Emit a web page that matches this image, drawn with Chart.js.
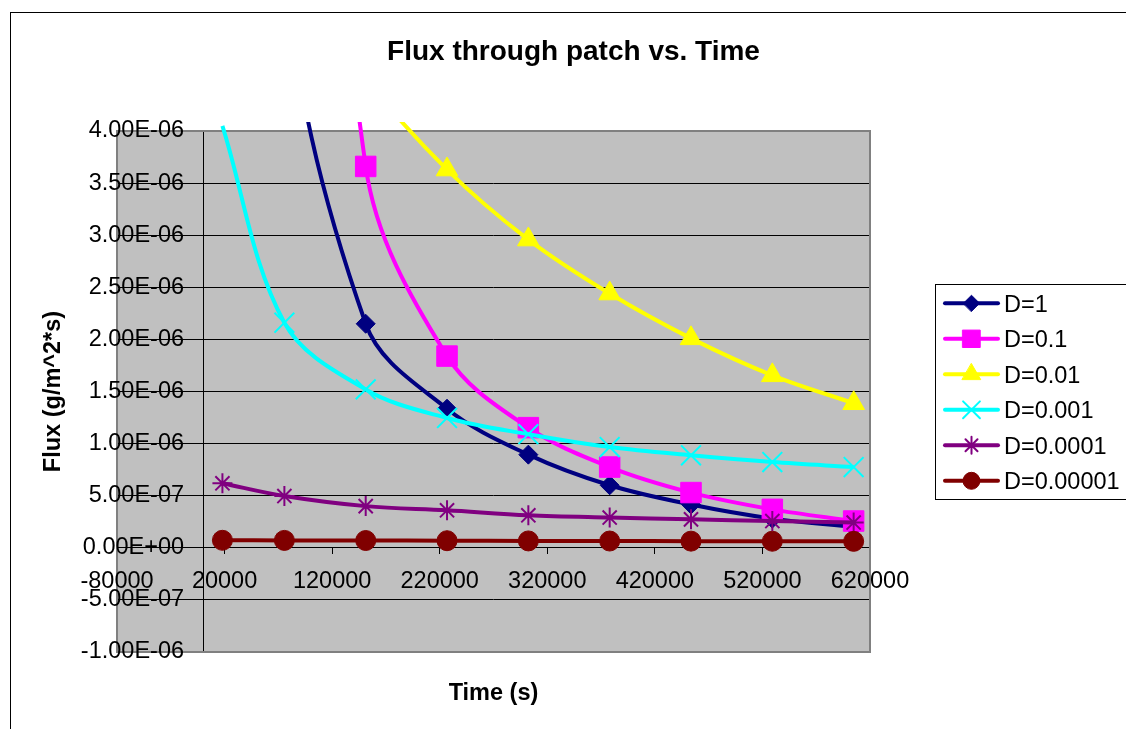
<!DOCTYPE html>
<html>
<head>
<meta charset="utf-8">
<title>Flux through patch vs. Time</title>
<script src="https://cdn.jsdelivr.net/npm/chart.js@4.4.1/dist/chart.umd.min.js"></script>
<style>
  html, body { margin: 0; padding: 0; background: #fff; }
  #wrap { width: 1126px; height: 729px; }
</style>
</head>
<body>
<div id="wrap"><canvas id="flux" width="1126" height="729"></canvas></div>
<script>
// sample times (s)
const times = [18000, 75600, 151200, 226800, 302400, 378000, 453600, 529200, 604800];

// flux (g/m^2*s) for each diffusivity
const fluxD1      = [2.6e-5, 5.8e-6, 2.15e-6, 1.335e-6, 8.94e-7, 6.0e-7, 4.15e-7, 2.8e-7, 2.0e-7];
const fluxD0_1    = [3.2e-5, 1.3e-5, 3.66e-6, 1.84e-6, 1.153e-6, 7.75e-7, 5.3e-7, 3.69e-7, 2.57e-7];
const fluxD0_01   = [7.0e-6, 5.6e-6, 4.5e-6, 3.63e-6, 2.958e-6, 2.44e-6, 2.01e-6, 1.655e-6, 1.387e-6];
const fluxD0_001  = [4.05e-6, 2.16e-6, 1.52e-6, 1.246e-6, 1.09e-6, 9.67e-7, 8.88e-7, 8.23e-7, 7.75e-7];
const fluxD0_0001 = [6.19e-7, 4.97e-7, 4.0e-7, 3.6e-7, 3.12e-7, 2.9e-7, 2.73e-7, 2.57e-7, 2.42e-7];
const fluxD1e_5   = [7.2e-8, 7.1e-8, 7.0e-8, 6.8e-8, 6.6e-8, 6.5e-8, 6.4e-8, 6.3e-8, 6.2e-8];

const seriesLabels = ['D=1', 'D=0.1', 'D=0.01', 'D=0.001', 'D=0.0001', 'D=0.00001'];
const fluxSeries = [fluxD1, fluxD0_1, fluxD0_01, fluxD0_001, fluxD0_0001, fluxD1e_5];

const xTicks = [-80000, 20000, 120000, 220000, 320000, 420000, 520000, 620000];
const yTicks = [-1.0e-6, -0.5e-6, 0, 0.5e-6, 1.0e-6, 1.5e-6, 2.0e-6, 2.5e-6, 3.0e-6, 3.5e-6, 4.0e-6];

// series look
const seriesColors = ['#000080', '#FF00FF', '#FFFF00', '#00FFFF', '#800080', '#800000'];
const markerStyles = ['rectRot', 'rect', 'triangle', 'crossRot', 'star', 'circle'];
const markerSizes = [9.5, 14.5, 12.5, 14, 10, 10];
const markerStrokes = [1, 1, 1, 2, 2, 1];

const FONT = '"Liberation Sans", Arial, sans-serif';
const Y_MAX = yTicks[yTicks.length - 1];
const TICK_LEN = 6;

// 4.00E-06 style labels
function sci(v) {
  if (Math.abs(v) < 1e-15) return '0.00E+00';
  const parts = v.toExponential(2).split('e');
  const n = parseInt(parts[1], 10);
  return parts[0] + 'E' + (n < 0 ? '-' : '+') + String(Math.abs(n)).padStart(2, '0');
}

const frame = {
  id: 'frame',
  beforeDraw(chart) {
    const {ctx, chartArea: a} = chart;
    ctx.save();
    ctx.fillStyle = '#fff';
    ctx.fillRect(0, 0, chart.width, chart.height);
    ctx.strokeStyle = '#000';
    ctx.lineWidth = 1;
    ctx.strokeRect(10.5, 12.5, chart.width + 40, chart.height + 40);
    ctx.fillStyle = '#C0C0C0';
    ctx.fillRect(a.left, a.top, a.right - a.left, a.bottom - a.top);
    ctx.restore();
  },
  beforeDatasetsDraw(chart) {
    const {ctx, chartArea: a} = chart;
    ctx.save();
    ctx.strokeStyle = '#808080';
    ctx.lineWidth = 2;
    ctx.strokeRect(a.left, a.top, a.right - a.left, a.bottom - a.top);
    ctx.restore();
  },
  afterDraw(chart) {
    const {ctx, chartArea: a} = chart;
    const xs = chart.scales.x, ys = chart.scales.y;
    ctx.save();
    ctx.fillStyle = '#000';

    // value labels left of the y axis (the axis sits at x = 0)
    const axisX = xs.getPixelForValue(0);
    ctx.font = '23.5px ' + FONT;
    ctx.textAlign = 'right';
    ctx.textBaseline = 'middle';
    ys.ticks.forEach(t => {
      ctx.fillText(sci(t.value), axisX - TICK_LEN - 13, ys.getPixelForValue(t.value));
    });

    ctx.textBaseline = 'alphabetic';
    ctx.font = 'bold 28px ' + FONT;
    ctx.textAlign = 'center';
    ctx.fillText('Flux through patch vs. Time', 573.5, 60);

    ctx.font = 'bold 23.5px ' + FONT;
    ctx.fillText('Time (s)', (a.left + a.right) / 2, 700);

    ctx.save();
    ctx.translate(59.5, (a.top + a.bottom) / 2);
    ctx.rotate(-Math.PI / 2);
    ctx.fillText('Flux (g/m^2*s)', 0, 0);
    ctx.restore();

    // legend box
    const boxL = 935, boxT = 284, boxB = 499;
    ctx.fillStyle = '#fff';
    ctx.fillRect(boxL, boxT, 300, boxB - boxT);
    ctx.strokeStyle = '#000';
    ctx.lineWidth = 1;
    ctx.strokeRect(boxL + 0.5, boxT + 0.5, 300, boxB - boxT);

    ctx.font = '23.5px ' + FONT;
    ctx.textAlign = 'left';
    chart.data.datasets.forEach((ds, i) => {
      const y = 303.3 + i * 35.5;
      ctx.strokeStyle = ds.borderColor;
      ctx.lineWidth = 4;
      ctx.lineCap = 'round';
      ctx.beginPath();
      ctx.moveTo(945, y);
      ctx.lineTo(998, y);
      ctx.stroke();
      ctx.fillStyle = ds.pointBackgroundColor;
      ctx.strokeStyle = ds.pointBorderColor;
      ctx.lineWidth = markerStrokes[i];
      Chart.helpers.drawPoint(ctx, {
        pointStyle: markerStyles[i], rotation: 0,
        radius: markerSizes[i] * 0.85, borderWidth: markerStrokes[i]
      }, 971.5, y);
      ctx.fillStyle = '#000';
      ctx.fillText(ds.label, 1004, y + 8.4);
    });
    ctx.restore();
  }
};

const tickFont = {family: FONT, size: 23.5};

new Chart(document.getElementById('flux'), {
  type: 'line',
  data: {
    datasets: fluxSeries.map((vals, i) => ({
      label: seriesLabels[i],
      data: times.map((t, k) => ({x: t, y: vals[k]})),
      borderColor: seriesColors[i],
      backgroundColor: seriesColors[i],
      borderWidth: 4,
      tension: 0.35,
      pointStyle: markerStyles[i],
      pointRadius: c => (c.raw && c.raw.y > Y_MAX) ? 0 : markerSizes[i],
      pointBorderWidth: markerStrokes[i],
      pointBackgroundColor: seriesColors[i],
      pointBorderColor: seriesColors[i],
      clip: {left: 10, top: 9, right: 10, bottom: 10},
      order: fluxSeries.length - 1 - i
    }))
  },
  options: {
    responsive: false,
    devicePixelRatio: 1,
    animation: false,
    events: [],
    elements: {line: {capBezierPoints: false}},
    layout: {padding: {left: 117, top: 131, right: 256, bottom: 77}},
    plugins: {legend: {display: false}, title: {display: false}, tooltip: {enabled: false}},
    scales: {
      x: {
        type: 'linear',
        min: xTicks[0],
        max: xTicks[xTicks.length - 1],
        position: {y: 0},
        afterBuildTicks: s => { s.ticks = xTicks.map(v => ({value: v})); },
        afterFit: s => { s.height = 0; },
        grid: {drawOnChartArea: false, drawTicks: true, tickLength: TICK_LEN, color: '#000', lineWidth: 1},
        border: {display: true, color: '#000', width: 1},
        ticks: {font: tickFont, color: '#000', padding: 14, maxRotation: 0, minRotation: 0,
                autoSkip: false, z: 1, callback: v => String(v)}
      },
      y: {
        type: 'linear',
        min: yTicks[0],
        max: Y_MAX,
        position: {x: 0},
        afterBuildTicks: s => { s.ticks = yTicks.map(v => ({value: v})); },
        afterFit: s => { s.width = 0; },
        grid: {drawOnChartArea: true, drawTicks: true, tickLength: TICK_LEN, color: '#000', lineWidth: 1},
        border: {display: true, color: '#000', width: 1},
        ticks: {display: false}
      }
    }
  },
  plugins: [frame]
});
</script>
</body>
</html>
